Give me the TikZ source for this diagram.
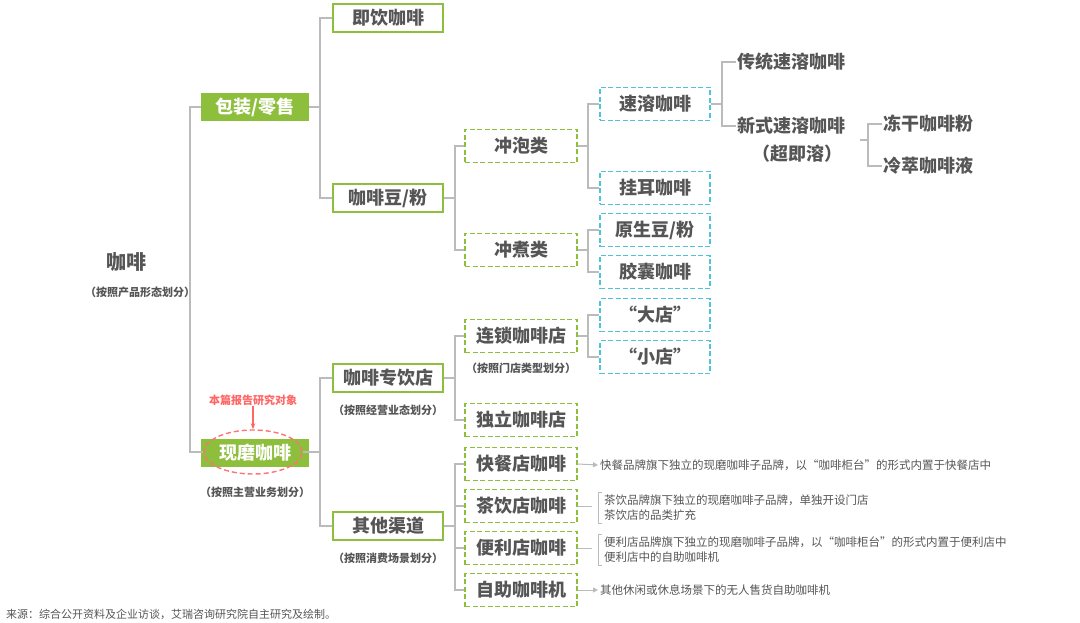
\documentclass[tikz,border=0pt]{standalone}
\usepackage{fontspec}
\setmainfont{Noto Sans CJK SC}
\usetikzlibrary{arrows.meta,shapes.geometric}
\definecolor{leaf}{HTML}{8DBE3C}
\definecolor{cyanb}{HTML}{4FC3D9}
\definecolor{txt}{HTML}{555555}
\definecolor{wire}{HTML}{BBBBBB}
\tikzset{
  solidbox/.style={draw=leaf,line width=1.6pt,fill=white,minimum width=110pt,minimum height=28pt,font=\fontsize{18}{18}\selectfont\bfseries,text=txt,inner sep=0pt},
  fillbox/.style={solidbox,fill=leaf,text=white,minimum width=106pt,minimum height=26pt},
  greenbox/.style={draw=leaf,dash pattern=on 5pt off 2.5pt,line width=1.4pt,fill=white,minimum width=112pt,minimum height=33pt,font=\fontsize{18}{18}\selectfont\bfseries,text=txt,inner sep=0pt},
  cyanbox/.style={greenbox,draw=cyanb,minimum width=110pt},
  plain/.style={font=\fontsize{18}{18}\selectfont\bfseries,text=txt,inner sep=1pt},
  sub/.style={font=\fontsize{11}{11}\selectfont\bfseries,text=txt,inner sep=0pt},
  note/.style={font=\fontsize{11.5}{15}\selectfont,text=txt,inner sep=0pt,anchor=west,align=left},
  wire/.style={draw=wire,line width=1.6pt},
}
% bracket from a parent to its children, bus at x
\newcommand{\branch}[3]{\foreach \c in {#3}{\draw[wire] (#1.east) -- (#2,0 |- #1.east) |- (\c.west);}}
\begin{document}
\begin{tikzpicture}[x=1pt,y=-1pt]
\useasboundingbox (0,0) rectangle (1080,623);

% root
\node[plain,font=\fontsize{20}{20}\selectfont\bfseries] (coffee) at (126,262) {咖啡};
\node[sub] (coffeesub) at (140,292) {（按照产品形态划分）};

% level 1
\node[fillbox] (pack) at (255,107) {包装/零售};
\node[fillbox] (fresh) at (255,453) {现磨咖啡};
\node[draw=red!55,dash pattern=on 5pt off 3pt,line width=1.4pt,ellipse,minimum width=98pt,minimum height=44pt] (ring) at (253,452) {};
\node[sub,text=red!60,font=\fontsize{11}{11}\selectfont\bfseries] (target) at (253,400) {本篇报告研究对象};
\node[sub] (freshsub) at (255,492) {（按照主营业务划分）};

% level 2
\node[solidbox] (rtd) at (388,18) {即饮咖啡};
\node[solidbox] (bean) at (388,198) {咖啡豆/粉};
\node[solidbox] (shop) at (388,378) {咖啡专饮店};
\node[sub] (shopsub) at (388,410) {（按照经营业态划分）};
\node[solidbox] (other) at (388,526) {其他渠道};
\node[sub] (othersub) at (388,558) {（按照消费场景划分）};

% level 3
\node[greenbox] (brew) at (521,146) {冲泡类};
\node[greenbox] (boil) at (521,250) {冲煮类};
\node[greenbox] (chain) at (521,336) {连锁咖啡店};
\node[sub] (chainsub) at (521,368) {（按照门店类型划分）};
\node[greenbox] (indep) at (521,420) {独立咖啡店};
\node[greenbox] (fast) at (521,464) {快餐店咖啡};
\node[greenbox] (tea) at (521,506) {茶饮店咖啡};
\node[greenbox] (conv) at (521,548) {便利店咖啡};
\node[greenbox] (self) at (521,590) {自助咖啡机};

% level 4
\node[cyanbox] (inst) at (655,104) {速溶咖啡};
\node[cyanbox] (drip) at (655,188) {挂耳咖啡};
\node[cyanbox] (raw) at (655,230) {原生豆/粉};
\node[cyanbox] (caps) at (655,272) {胶囊咖啡};
\node[cyanbox] (big) at (655,315) {“大店”};
\node[cyanbox] (small) at (655,357) {“小店”};

% level 5
\node[plain,anchor=west] (trad) at (736,62) {传统速溶咖啡};
\node[plain,anchor=west] (newi) at (736,126) {新式速溶咖啡};
\node[plain] (newisub) at (797,154) {（超即溶）};
\node[plain,anchor=west] (freeze) at (882,124) {冻干咖啡粉};
\node[plain,anchor=west] (cold) at (882,166) {冷萃咖啡液};

% connectors
\draw[wire] (190,292) |- (pack.west);
\draw[wire] (190,292) |- (ring.west);
\branch{pack}{320}{rtd,bean}
\branch{ring}{320}{shop,other}
\branch{bean}{455}{brew,boil}
\branch{brew}{588}{inst,drip}
\branch{boil}{588}{raw,caps}
\branch{shop}{455}{chain,indep}
\branch{other}{455}{fast,tea,conv,self}
\branch{chain}{588}{big,small}
\branch{inst}{722}{trad,newi}
\coordinate (nb) at (868,140);
\draw[wire] (nb) ++(-8,0) -- (nb) |- (freeze.west);
\draw[wire] (nb) |- (cold.west);
\draw[-{Stealth[length=6pt]},draw=red!60,line width=1.4pt] (target.south) -- (ring.north);

% notes
\node[note] (fastn) at (600,465) {快餐品牌旗下独立的现磨咖啡子品牌，以“咖啡柜台”的形式内置于快餐店中};
\node[note] (tean) at (604,508) {茶饮品牌旗下独立的现磨咖啡子品牌，单独开设门店\\茶饮店的品类扩充};
\node[note] (convn) at (604,550) {便利店品牌旗下独立的现磨咖啡子品牌，以“咖啡柜台”的形式内置于便利店中\\便利店中的自助咖啡机};
\node[note] (selfn) at (600,590) {其他休闲或休息场景下的无人售货自助咖啡机};
\foreach \b/\n in {fast/fastn,self/selfn}
  \draw[wire,line width=1pt,-{Triangle[length=5pt,width=5pt]}] (\b.east) -- ([xshift=-2pt]\n.west);
\foreach \b/\n in {tea/tean,conv/convn}{
  \draw[wire,line width=1pt] (\b.east) -- ++(14,0);
  \draw[wire,line width=1pt] ([xshift=-2pt,yshift=2pt]\n.north west) -- ++(-4,0) |- ([xshift=-2pt,yshift=-2pt]\n.south west);
}

\node[font=\fontsize{11}{11}\selectfont,text=txt,anchor=west,inner sep=0pt] (src) at (6,614) {来源：综合公开资料及企业访谈，艾瑞咨询研究院自主研究及绘制。};
\end{tikzpicture}
\end{document}
